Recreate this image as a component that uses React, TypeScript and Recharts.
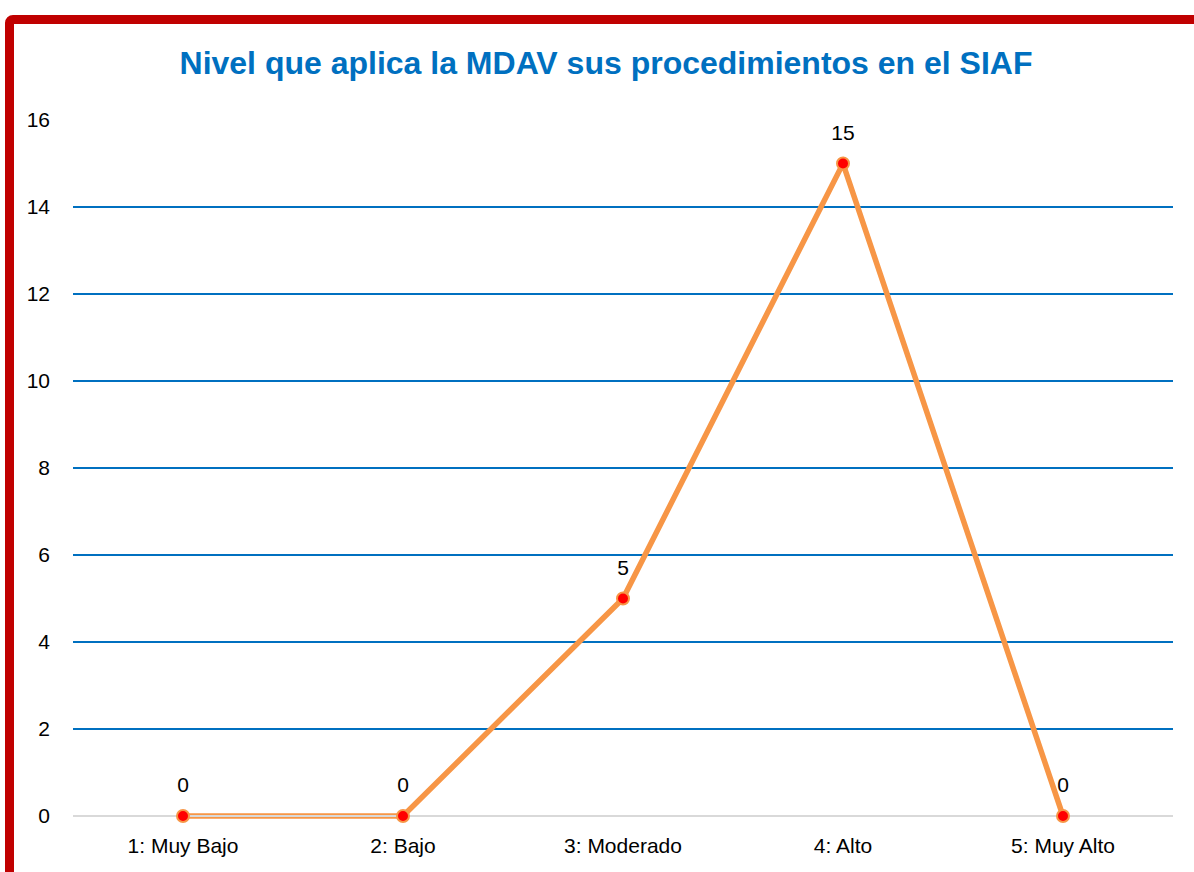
import { LineChart, Line, XAxis, YAxis, CartesianGrid, LabelList } from 'recharts'

const niveles = ['1: Muy Bajo', '2: Bajo', '3: Moderado', '4: Alto', '5: Muy Alto']
const cantidades = [0, 0, 5, 15, 0]
const yTicks = [0, 2, 4, 6, 8, 10, 12, 14, 16]
const gridValues = [2, 4, 6, 8, 10, 12, 14]

const data = niveles.map((nivel, i) => ({ nivel, valor: cantidades[i] }))

const FONT = '"Liberation Sans", Arial, sans-serif'

export default function App() {
  return (
    <div
      style={{
        position: 'fixed',
        left: 0,
        top: 0,
        width: 1194,
        height: 872,
        overflow: 'hidden',
        background: '#fff',
        fontFamily: FONT,
      }}
    >
      {/* marco rojo */}
      <div
        style={{
          position: 'absolute',
          left: 5,
          top: 15,
          width: 1400,
          height: 1100,
          border: '9px solid #c00000',
          borderRadius: 8,
          boxSizing: 'border-box',
        }}
      />
      <div
        style={{
          position: 'absolute',
          left: 0,
          width: 1212,
          top: 44,
          textAlign: 'center',
          color: '#0070c0',
          fontWeight: 'bold',
          fontSize: 32,
          lineHeight: '38px',
        }}
      >
        Nivel que aplica la MDAV sus procedimientos en el SIAF
      </div>
      <div style={{ position: 'absolute', left: 0, top: 0 }}>
        <LineChart
          width={1194}
          height={872}
          data={data}
          margin={{ top: 120, right: 21, bottom: 0, left: 0 }}
          style={{ fontFamily: FONT }}
        >
          <CartesianGrid
            vertical={false}
            horizontalValues={gridValues}
            stroke="#0070c0"
            strokeWidth={2}
          />
          <XAxis
            dataKey="nivel"
            height={56}
            padding={{ left: 110, right: 110 }}
            axisLine={{ stroke: '#d9d9d9', strokeWidth: 2 }}
            tickLine={false}
            tickSize={6}
            tickMargin={16}
            tick={{ fill: '#000', fontSize: 21 }}
            interval={0}
          />
          <YAxis
            width={73}
            domain={[0, 16]}
            ticks={yTicks}
            axisLine={false}
            tickLine={false}
            tickSize={0}
            tickMargin={23}
            tick={{ fill: '#000', fontSize: 21 }}
          />
          <Line
            type="linear"
            dataKey="valor"
            stroke="#f79646"
            strokeWidth={5.5}
            dot={{ r: 6, fill: '#ff0000', stroke: '#f79646', strokeWidth: 2 }}
            activeDot={false}
            isAnimationActive={false}
          >
            <LabelList dataKey="valor" position="top" offset={24} fill="#000" fontSize={21} />
          </Line>
        </LineChart>
      </div>
    </div>
  )
}
